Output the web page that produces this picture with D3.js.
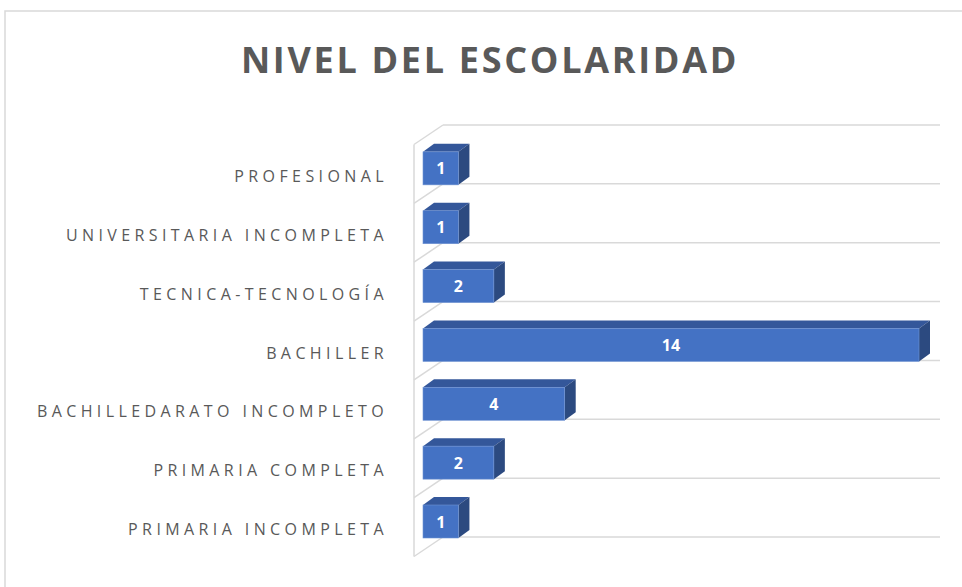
<!DOCTYPE html>
<html>
<head>
<meta charset="utf-8">
<script src="https://cdn.jsdelivr.net/npm/d3@7"></script>
<style>
  body { margin: 0; background: #fff; }
  svg { display: block; }
</style>
</head>
<body>
<svg id="chart" width="962" height="587"></svg>
<script>
// data, top to bottom as shown
var categories = ["PROFESIONAL", "UNIVERSITARIA INCOMPLETA", "TECNICA-TECNOLOGÍA", "BACHILLER",
                  "BACHILLEDARATO INCOMPLETO", "PRIMARIA COMPLETA", "PRIMARIA INCOMPLETA"];
var values = [1, 1, 2, 14, 4, 2, 1];
var title = "NIVEL DEL ESCOLARIDAD";

var svg = d3.select("#chart");

// outer frame
svg.append("path")
  .attr("d", "M5,587 V11 H962")
  .attr("fill", "none")
  .attr("stroke", "#d9d9d9")
  .attr("stroke-width", 1.5);

svg.append("text")
  .attr("x", 490).attr("y", 73)
  .attr("text-anchor", "middle")
  .attr("font-family", "Open Sans, sans-serif")
  .attr("font-weight", "bold")
  .attr("font-size", 36)
  .attr("letter-spacing", 2.7)
  .attr("fill", "#595959")
  .text(title);

// scales
var x = d3.scaleLinear().domain([0, 14]).range([423, 919]);
var y = d3.scaleBand().domain(categories).range([125, 537]).padding(0);
var bw = y.bandwidth();

var wallLeft = 443, wallRight = 940;
var depthX = -29, depthY = 19.5;   // back wall -> front edge
var barH = 33, bdx = 11, bdy = -8; // bar face height and bar depth

// gridlines on back wall + floor diagonals
var grid = svg.append("g").attr("stroke", "#d9d9d9").attr("stroke-width", 1.5).attr("fill", "none");
var edges = categories.map(function(c) { return y(c); }).concat([y.range()[1]]);
edges.forEach(function(gy) {
  grid.append("line").attr("x1", wallLeft).attr("x2", wallRight).attr("y1", gy).attr("y2", gy);
  grid.append("line").attr("x1", wallLeft).attr("y1", gy).attr("x2", wallLeft + depthX).attr("y2", gy + depthY);
});
grid.append("line")
  .attr("x1", wallLeft + depthX).attr("x2", wallLeft + depthX)
  .attr("y1", edges[0] + depthY).attr("y2", edges[edges.length - 1] + depthY);

// category labels
svg.append("g").selectAll("text")
  .data(categories)
  .enter().append("text")
  .attr("x", 388)
  .attr("y", function(d) { return y(d) + bw / 2 + depthY + 8; })
  .attr("text-anchor", "end")
  .attr("font-family", "Open Sans, sans-serif")
  .attr("font-size", 16)
  .attr("letter-spacing", 4.4)
  .attr("fill", "#595959")
  .text(function(d) { return d; });

// 3d bars
var bars = svg.append("g").selectAll("g")
  .data(categories)
  .enter().append("g");

function face(d, i) { return { x0: x(0), x1: x(values[i]), y1: y(d) + bw + 1, y0: y(d) + bw + 1 - barH }; }

bars.append("path")   // top
  .attr("d", function(d, i) {
    var f = face(d, i);
    return "M" + f.x0 + "," + f.y0 + "L" + (f.x0 + bdx) + "," + (f.y0 + bdy) +
      "L" + (f.x1 + bdx) + "," + (f.y0 + bdy) + "L" + f.x1 + "," + f.y0 + "Z";
  })
  .attr("fill", "#34579a");

bars.append("path")   // side
  .attr("d", function(d, i) {
    var f = face(d, i);
    return "M" + f.x1 + "," + f.y0 + "L" + (f.x1 + bdx) + "," + (f.y0 + bdy) +
      "L" + (f.x1 + bdx) + "," + (f.y1 + bdy) + "L" + f.x1 + "," + f.y1 + "Z";
  })
  .attr("fill", "#2c4a80");

bars.append("rect")   // front
  .attr("x", function(d, i) { return face(d, i).x0; })
  .attr("y", function(d, i) { return face(d, i).y0; })
  .attr("width", function(d, i) { return x(values[i]) - x(0); })
  .attr("height", barH)
  .attr("fill", "#4472c4")
  .attr("stroke", "#6f93d3")
  .attr("stroke-width", 0.6);

bars.append("text")
  .attr("x", function(d, i) { var f = face(d, i); return (f.x0 + f.x1) / 2; })
  .attr("y", function(d, i) { var f = face(d, i); return (f.y0 + f.y1) / 2 + 6; })
  .attr("text-anchor", "middle")
  .attr("font-family", "Open Sans, sans-serif")
  .attr("font-weight", "bold")
  .attr("font-size", 16)
  .attr("fill", "#ffffff")
  .text(function(d, i) { return values[i]; });
</script>
</body>
</html>
